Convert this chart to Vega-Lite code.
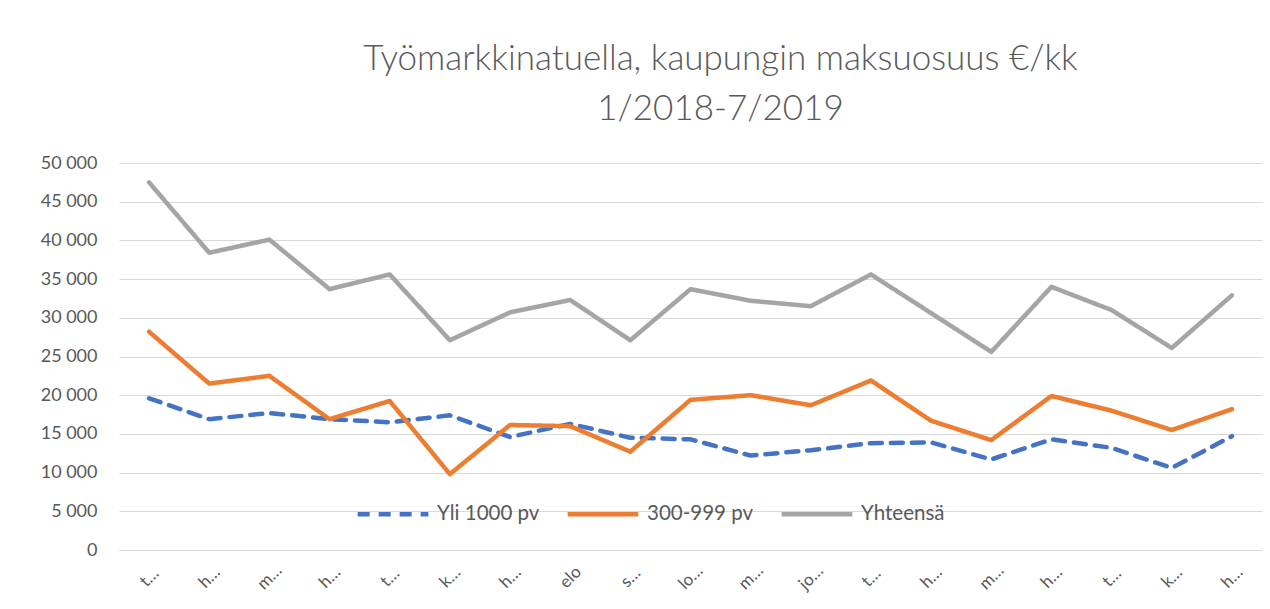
{
  "$schema": "https://vega.github.io/schema/vega-lite/v6.json",
  "width": 1143,
  "height": 387,
  "autosize": {"type": "none"},
  "padding": {"left": 119, "top": 163, "right": 8, "bottom": 59},
  "background": "white",
  "title": {
    "text": ["Työmarkkinatuella, kaupungin maksuosuus €/kk", "1/2018-7/2019"],
    "font": "Lato",
    "fontSize": 35,
    "fontWeight": 300,
    "color": "#595959",
    "anchor": "middle",
    "dx": 30,
    "offset": 27,
    "lineHeight": 50
  },
  "data": {
    "values": [
      {"kk": "tammi 2018", "nimi": "t…", "Yli 1000 pv": 19600, "300-999 pv": 28200, "Yhteensä": 47500},
      {"kk": "helmi 2018", "nimi": "h…", "Yli 1000 pv": 16900, "300-999 pv": 21500, "Yhteensä": 38400},
      {"kk": "maalis 2018", "nimi": "m…", "Yli 1000 pv": 17700, "300-999 pv": 22500, "Yhteensä": 40100},
      {"kk": "huhti 2018", "nimi": "h…", "Yli 1000 pv": 16900, "300-999 pv": 16900, "Yhteensä": 33700},
      {"kk": "touko 2018", "nimi": "t…", "Yli 1000 pv": 16500, "300-999 pv": 19250, "Yhteensä": 35600},
      {"kk": "kesä 2018", "nimi": "k…", "Yli 1000 pv": 17400, "300-999 pv": 9800, "Yhteensä": 27100},
      {"kk": "heinä 2018", "nimi": "h…", "Yli 1000 pv": 14600, "300-999 pv": 16150, "Yhteensä": 30700},
      {"kk": "elo 2018", "nimi": "elo", "Yli 1000 pv": 16300, "300-999 pv": 16000, "Yhteensä": 32300},
      {"kk": "syys 2018", "nimi": "s…", "Yli 1000 pv": 14500, "300-999 pv": 12700, "Yhteensä": 27100},
      {"kk": "loka 2018", "nimi": "lo…", "Yli 1000 pv": 14300, "300-999 pv": 19400, "Yhteensä": 33700},
      {"kk": "marras 2018", "nimi": "m…", "Yli 1000 pv": 12200, "300-999 pv": 20000, "Yhteensä": 32200},
      {"kk": "joulu 2018", "nimi": "jo…", "Yli 1000 pv": 12900, "300-999 pv": 18700, "Yhteensä": 31500},
      {"kk": "tammi 2019", "nimi": "t…", "Yli 1000 pv": 13800, "300-999 pv": 21900, "Yhteensä": 35600},
      {"kk": "helmi 2019", "nimi": "h…", "Yli 1000 pv": 13900, "300-999 pv": 16700, "Yhteensä": 30600},
      {"kk": "maalis 2019", "nimi": "m…", "Yli 1000 pv": 11700, "300-999 pv": 14200, "Yhteensä": 25600},
      {"kk": "huhti 2019", "nimi": "h…", "Yli 1000 pv": 14300, "300-999 pv": 19900, "Yhteensä": 34000},
      {"kk": "touko 2019", "nimi": "t…", "Yli 1000 pv": 13200, "300-999 pv": 18000, "Yhteensä": 31000},
      {"kk": "kesä 2019", "nimi": "k…", "Yli 1000 pv": 10600, "300-999 pv": 15500, "Yhteensä": 26100},
      {"kk": "heinä 2019", "nimi": "h…", "Yli 1000 pv": 14700, "300-999 pv": 18200, "Yhteensä": 32900}
    ]
  },
  "transform": [
    {"fold": ["Yli 1000 pv", "300-999 pv", "Yhteensä"], "as": ["sarja", "arvo"]}
  ],
  "mark": {"type": "line", "strokeWidth": 4.5, "strokeCap": "round", "strokeJoin": "round"},
  "encoding": {
    "x": {
      "field": "kk",
      "type": "nominal",
      "sort": null,
      "scale": {"type": "point", "padding": 0.5},
      "axis": {
        "title": null,
        "labelAngle": -45,
        "labelAlign": "center",
        "labelBaseline": "middle",
        "labelFont": "Lato",
        "labelFontSize": 17,
        "labelColor": "#595959",
        "labelPadding": 27,
        "labelOverlap": false,
        "ticks": false,
        "domainColor": "#d9d9d9",
        "domainWidth": 1,
        "labelExpr": "indexof(datum.value,'elo')==0 ? 'elo' : ((indexof(datum.value,'lo')==0 || indexof(datum.value,'jo')==0) ? slice(datum.value,0,2)+'…' : slice(datum.value,0,1)+'…')"
      }
    },
    "y": {
      "field": "arvo",
      "type": "quantitative",
      "scale": {"domain": [0, 50000], "nice": false},
      "axis": {
        "title": null,
        "values": [0, 5000, 10000, 15000, 20000, 25000, 30000, 35000, 40000, 45000, 50000],
        "labelOverlap": false,
        "domain": false,
        "ticks": false,
        "grid": true,
        "gridColor": "#d9d9d9",
        "gridWidth": 1,
        "labelFont": "Lato",
        "labelFontSize": 18,
        "labelColor": "#595959",
        "labelPadding": 22,
        "labelExpr": "replace(format(datum.value, ',d'), ',', ' ')"
      }
    },
    "color": {
      "field": "sarja",
      "type": "nominal",
      "sort": ["Yli 1000 pv", "300-999 pv", "Yhteensä"],
      "scale": {"domain": ["Yli 1000 pv", "300-999 pv", "Yhteensä"], "range": ["#4472C4", "#ED7D31", "#A5A5A5"]},
      "legend": {
        "title": null,
        "orient": "none",
        "direction": "horizontal",
        "legendX": 236,
        "legendY": 313,
        "symbolType": "stroke",
        "symbolSize": 5000,
        "symbolStrokeWidth": 4.5,
        "labelFont": "Lato",
        "labelFontSize": 20.5,
        "labelColor": "#595959",
        "columnPadding": 18,
        "labelOffset": 6
      }
    },
    "strokeDash": {
      "field": "sarja",
      "type": "nominal",
      "sort": ["Yli 1000 pv", "300-999 pv", "Yhteensä"],
      "scale": {"domain": ["Yli 1000 pv", "300-999 pv", "Yhteensä"], "range": [[12, 9], [1, 0], [1, 0]]},
      "legend": null
    }
  },
  "config": {"view": {"stroke": null}}
}
